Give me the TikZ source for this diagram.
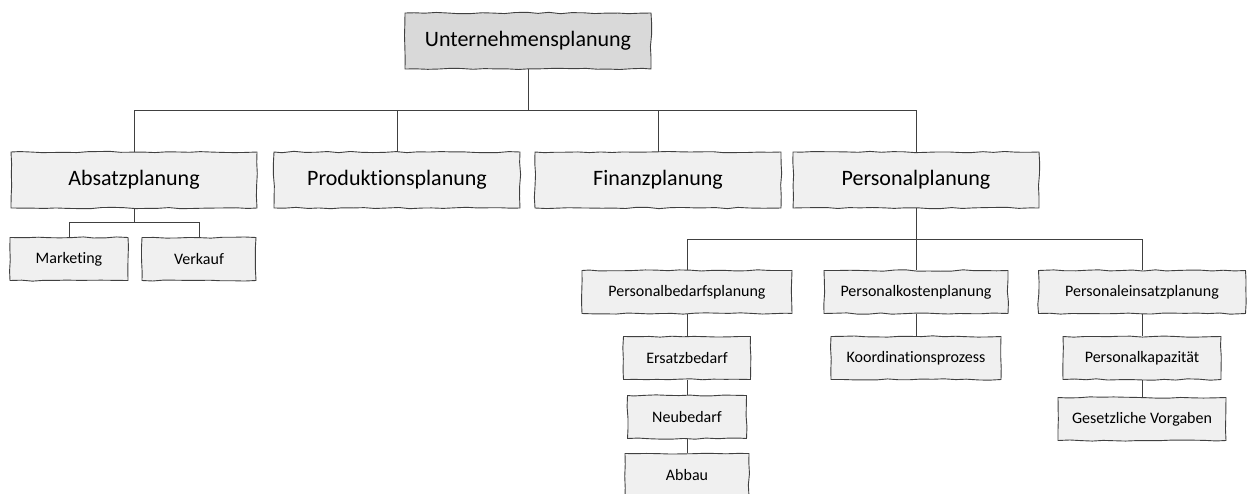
\documentclass[tikz,border=0pt]{standalone}
\usepackage{fontspec}
\setmainfont{Carlito}[Ligatures=NoCommon]
\usetikzlibrary{decorations.pathmorphing}

\begin{document}
\begin{tikzpicture}[x=1pt, y=-1pt,
        box/.style={draw=black!75, line width=0.9pt, fill=black!6, decorate,
            decoration={random steps, segment length=11.3pt, amplitude=0.7pt},
            inner sep=0pt, text=black},
        big/.style={box, minimum width=246pt, minimum height=56pt, font=\fontsize{22}{26}\selectfont},
        small/.style={box, minimum height=43pt, font=\fontsize{16}{19}\selectfont},
        link/.style={draw=black!75, line width=0.9pt}]
        \pgfmathsetseed{7}
        \useasboundingbox (0,0) rectangle (1247,493);

        \node[big, fill=black!15] (unt) at (528,41) {Unternehmensplanung};
        \node[big] (abs) at (134,180) {Absatzplanung};
        \node[big] (prod) at (397,180) {Produktionsplanung};
        \node[big] (fin) at (658,180) {Finanzplanung};
        \node[big] (pers) at (916,180) {Personalplanung};

        \node[small, minimum width=118pt] (mark) at (69,259) {Marketing};
        \node[small, minimum width=114pt] (verk) at (199,259) {Verkauf};

        \node[small, minimum width=210pt] (bed) at (687,292) {Personalbedarfsplanung};
        \node[small, minimum width=184pt] (kost) at (916,292) {Personalkostenplanung};
        \node[small, minimum width=207pt] (eins) at (1142,292) {Personaleinsatzplanung};

        \node[small, minimum width=127pt] (ersatz) at (687,358) {Ersatzbedarf};
        \node[small, minimum width=119pt] (neu) at (687,417) {Neubedarf};
        \node[small, minimum width=124pt] (abbau) at (687,475) {Abbau};
        \node[small, minimum width=170pt] (koord) at (916,358) {Koordinationsprozess};
        \node[small, minimum width=158pt] (kapaz) at (1142,358) {Personalkapazität};
        \node[small, minimum width=168pt] (gesetz) at (1142,419) {Gesetzliche Vorgaben};

        \foreach \n in {abs,prod,fin,pers}
            \draw[link] (unt.south) -- ++(0,41) -| (\n.north);
        \foreach \n in {mark,verk}
            \draw[link] (abs.south) -- ++(0,14) -| (\n.north);
        \foreach \n in {bed,kost,eins}
            \draw[link] (pers.south) -- ++(0,31) -| (\n.north);

        \draw[link] (bed) -- (ersatz);
        \draw[link] (ersatz) -- (neu);
        \draw[link] (neu) -- (abbau);
        \draw[link] (kost) -- (koord);
        \draw[link] (eins) -- (kapaz);
        \draw[link] (kapaz) -- (gesetz);
\end{tikzpicture}
\end{document}
